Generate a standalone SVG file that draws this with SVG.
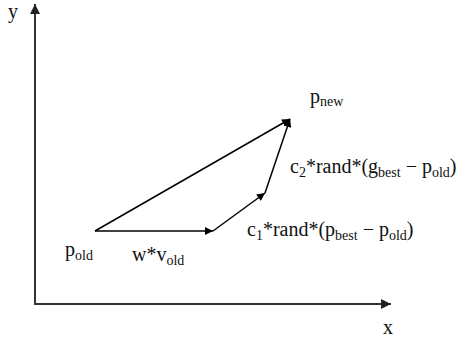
<svg xmlns="http://www.w3.org/2000/svg" width="463" height="340" viewBox="0 0 463 340">
<style>
.axis{stroke:#333;stroke-width:2;fill:none}
.vec{stroke:#000;stroke-width:1.5;fill:none}
.t{font-family:"Liberation Serif","Times New Roman",serif;font-size:20px;fill:#111}
.s{font-size:14px}
</style>
<defs>
<marker id="ah" viewBox="0 0 10 10" refX="10" refY="5" markerWidth="10" markerHeight="8" markerUnits="userSpaceOnUse" orient="auto">
<path d="M0,0 L10,5 L0,10 z" fill="#000"/>
</marker>
<marker id="ax" viewBox="0 0 10 10" refX="10" refY="5" markerWidth="12" markerHeight="10" markerUnits="userSpaceOnUse" orient="auto">
<path d="M0,0 L10,5 L0,10 z" fill="#222"/>
</marker>
</defs>
<g id="axes">
<line class="axis" x1="35" y1="304" x2="35" y2="4" marker-end="url(#ax)"/>
<line class="axis" x1="34" y1="304" x2="391" y2="304" marker-end="url(#ax)"/>
<text class="t" x="8" y="18">y</text>
<text class="t" x="383" y="334">x</text>
</g>
<g id="connectors">
<line class="vec" x1="95" y1="231" x2="213" y2="231" marker-end="url(#ah)"/>
<line class="vec" x1="213" y1="231" x2="265" y2="193" marker-end="url(#ah)"/>
<line class="vec" x1="265" y1="193" x2="290" y2="119" marker-end="url(#ah)"/>
<line class="vec" x1="95" y1="231" x2="290" y2="119" marker-end="url(#ah)"/>
</g>
<g id="p_old"><text class="t" x="65" y="256">p<tspan class="s" dy="4">old</tspan></text></g>
<g id="w_v_old"><text class="t" x="132" y="261">w*v<tspan class="s" dy="4">old</tspan></text></g>
<g id="p_new"><text class="t" x="310" y="103">p<tspan class="s" dy="3">new</tspan></text></g>
<g id="c2_term"><text class="t" x="290" y="173">c<tspan class="s" dy="4">2</tspan><tspan dy="-4">*rand*(g</tspan><tspan class="s" dy="4">best</tspan><tspan dy="-4"> − p</tspan><tspan class="s" dy="4">old</tspan><tspan dy="-4">)</tspan></text></g>
<g id="c1_term"><text class="t" x="247" y="236">c<tspan class="s" dy="4">1</tspan><tspan dy="-4">*rand*(p</tspan><tspan class="s" dy="4">best</tspan><tspan dy="-4"> − p</tspan><tspan class="s" dy="4">old</tspan><tspan dy="-4">)</tspan></text></g>
</svg>
